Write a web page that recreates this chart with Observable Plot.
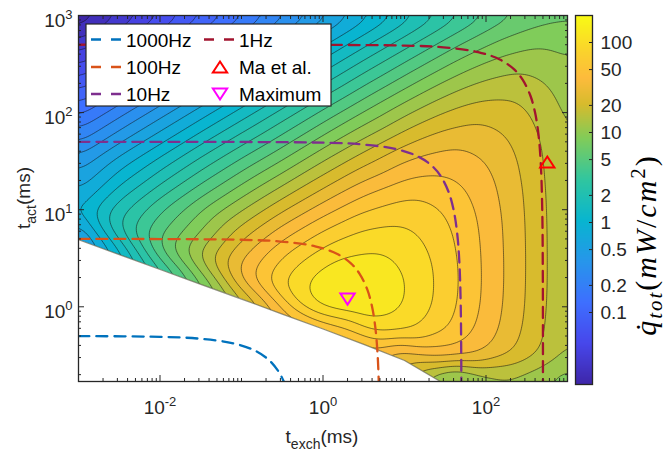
<!DOCTYPE html>
<html><head><meta charset="utf-8">
<script src="https://cdn.jsdelivr.net/npm/d3@7"></script>
<script src="https://cdn.jsdelivr.net/npm/@observablehq/plot@0.6"></script>
<style>
html,body{margin:0;padding:0;background:#fff;}
#wrap{position:relative;width:666px;height:458px;overflow:hidden;}
#wrap svg{position:absolute;top:0;}
</style></head><body><div id="wrap"></div>
<script>
// ---------- data ----------
// field: log10 of q_tot (mW/cm^2); t_exch (columns) x t_act (rows), both in ms
const gridExch = [1e-3, 3.16e-3, 1e-2, 3.16e-2, 0.1, 0.316, 1, 3.16, 10, 31.6, 100, 316, 1000];
const gridAct  = [1000, 316, 100, 31.6, 10, 3.16, 1, 0.316, 0.1];
const gridLogQ = [
  [-1.80,-1.55,-1.30,-1.05,-0.80,-0.55,-0.30,-0.05,0.20,0.44,0.66,0.83,0.90],
  [-1.30,-1.05,-0.80,-0.55,-0.30,-0.05,0.20,0.45,0.69,0.91,1.08,1.15,1.08],
  [-0.80,-0.55,-0.30,-0.05,0.20,0.45,0.70,0.94,1.16,1.33,1.40,1.33,1.16],
  [-0.32,-0.06,0.19,0.45,0.70,0.94,1.19,1.41,1.58,1.65,1.58,1.41,1.19],
  [0.02,0.36,0.65,0.92,1.18,1.43,1.65,1.83,1.90,1.83,1.66,1.44,1.20],
  [-0.33,0.08,0.71,1.24,1.58,1.85,2.05,2.13,2.07,1.90,1.68,1.44,1.20],
  [-0.33,0.08,0.49,0.89,1.28,1.71,2.16,2.21,2.10,1.90,1.68,1.44,1.19],
  [-0.33,0.08,0.49,0.89,1.28,1.62,1.68,1.63,1.45,1.66,1.56,1.38,1.16],
  [-0.33,0.08,0.49,0.89,1.28,1.62,1.68,1.63,1.45,1.20,0.77,1.09,1.02]
];
// finer readings, upper right (1Hz / 10Hz corners)
const patchAExch = [10, 17.8, 31.6, 56.2, 100, 178, 316, 562, 1000];
const patchAAct  = [1000, 562, 316, 178, 100, 56.2, 31.6, 17.8, 10];
const patchALogQ = [
  [0.196,0.317,0.437,0.551,0.659,0.754,0.831,0.881,0.899],
  [0.442,0.562,0.676,0.784,0.879,0.956,1.006,1.024,1.006],
  [0.687,0.801,0.909,1.004,1.081,1.131,1.149,1.131,1.081],
  [0.926,1.034,1.129,1.206,1.256,1.274,1.256,1.206,1.129],
  [1.159,1.254,1.331,1.381,1.399,1.381,1.331,1.254,1.159],
  [1.379,1.456,1.506,1.524,1.506,1.456,1.379,1.284,1.176],
  [1.581,1.631,1.649,1.631,1.581,1.504,1.409,1.301,1.187],
  [1.756,1.774,1.756,1.706,1.629,1.534,1.426,1.311,1.192],
  [1.899,1.881,1.831,1.754,1.659,1.551,1.437,1.317,1.196]
];
// finer readings, lower right
const patchBExch = [31.6, 56.2, 100, 178, 316, 562, 1000];
const patchBAct  = [5.62, 3.16, 1.78, 1, 0.562, 0.316, 0.178, 0.1];
const patchBLogQ = [
  [1.877,1.782,1.675,1.561,1.442,1.320,1.197],
  [1.903,1.797,1.683,1.565,1.444,1.321,1.198],
  [1.913,1.802,1.685,1.565,1.443,1.321,1.197],
  [1.902,1.792,1.677,1.558,1.438,1.316,1.194],
  [1.850,1.754,1.648,1.537,1.422,1.304,1.185],
  [1.663,1.629,1.563,1.476,1.378,1.273,1.161],
  [0.90,0.95,1.10,1.15,1.12,1.06,0.98],
  [0.60,0.75,0.90,0.95,0.95,0.90,0.85]
];
// single readings along the ridge, the cut-off edge and around the maximum
const extraExch = [3.16e-3,1e-2,0.1,0.316,
  1e-3,3.16e-3,1e-2,3.16e-2,0.1,0.316,1,3.16,10,27.5,
  0.1,0.316,1,1.78,3.16,5.62,10,17.8,
  0.562,1.78,5.62,17.8,
  0.1,0.316,0.562,1,1.78,3.16,5.62,10,17.8,
  0.562,1.78,5.62,17.8,
  1.78,3.16,5.62,10,17.8,
  17.8];
const extraAct = [6.44,4.5,2.19,1.53,
  4.9,3.44,2.42,1.70,1.2,0.84,0.59,0.41,0.28,0.17,
  5.62,5.62,5.62,5.62,5.62,5.62,5.62,5.62,
  3.16,3.16,3.16,3.16,
  1.78,1.78,1.78,1.78,1.78,1.78,1.78,1.78,1.78,
  1,1,1,1,
  0.562,0.562,0.562,0.562,0.562,
  0.316];
const extraLogQ = [0.43,0.84,1.63,1.97,
  -0.33,0.08,0.49,0.89,1.28,1.62,1.68,1.63,1.45,1.00,
  1.40,1.66,1.87,1.95,2.00,2.02,2.00,1.95,
  1.96,2.11,2.12,2.00,
  1.59,1.97,2.09,2.18,2.23,2.21,2.17,2.11,2.02,
  2.02,2.21,2.17,2.01,
  1.75,1.98,2.02,2.00,1.93,
  1.62];

// white (undefined) region edge
const edgeExch = [0.001,0.00316,0.01,0.0316,0.1,0.316,1,3.16,10,27.5,40];
const edgeAct  = [4.9,3.44,2.42,1.70,1.2,0.84,0.59,0.41,0.28,0.17,0.13];

// constant-frequency curves
const curveNames = ["1000Hz","100Hz","10Hz","1Hz"];
const curveExch = [
  [0.001,0.01,0.03,0.08,0.15,0.22,0.28,0.31,0.325,0.333],
  [0.001,0.1,0.3,0.8,1.5,2.2,2.8,3.5,4.0,4.4,4.7,4.83],
  [0.001,1,3,8,15,22,28,35,40,44,47,49,49.83],
  [0.001,10,30,80,150,220,280,350,400,440,470,490,498,499.83]
];
const curveAct = [
  [0.499,0.49,0.47,0.42,0.35,0.28,0.22,0.19,0.175,0.167],
  [5,4.9,4.7,4.2,3.5,2.8,2.2,1.5,1.0,0.6,0.3,0.17],
  [50,49,47,42,35,28,22,15,10,6,3,1,0.17],
  [500,490,470,420,350,280,220,150,100,60,30,10,2,0.17]
];
const curveColors = ["#0072BD","#D95319","#7E2F8E","#A2142F"];

// markers
const markerNames = ["Ma et al.","Maximum"];
const markerExch = [565, 2.0];
const markerAct  = [31, 1.2];
const markerColors = ["#FF0000","#FF00FF"];

// axes / colorbar ticks
const xLabelTicks = [1e-2, 1, 1e2];
const yLabelTicks = [1, 10, 100, 1000];
const cbarTicks = [0.1,0.2,0.5,1,2,5,10,20,50,100];
const cbarDomain = [-1.8, 2.3];   // log10 of 0.016 ... 200

// ---------- build ----------
const FONT = '"Liberation Sans", Arimo, Arial, Helvetica, sans-serif';
const INK = "#262626";
const parulaPos = [0,0.111,0.222,0.333,0.444,0.556,0.667,0.76,0.83,0.90,1];
const parulaCol = ["rgb(62,38,168)","rgb(71,71,235)","rgb(62,111,255)","rgb(39,150,235)","rgb(8,181,208)",
  "rgb(49,198,159)","rgb(129,204,89)","rgb(215,187,45)","rgb(253,187,60)","rgb(250,210,45)","rgb(249,251,21)"];
const parula = d3.scaleLinear().domain(parulaPos).range(parulaCol).interpolate(d3.interpolateRgb).clamp(true);
const parulaFn = t => parula(t);

const inA = (te, ta) => te >= 10 && ta >= 10;
const inB = (te, ta) => te >= 31.6 && ta <= 5.62;
const field = [];
gridAct.forEach((ta, i) => gridExch.forEach((te, j) => {
  if (!inA(te, ta) && !inB(te, ta)) field.push({te, ta, L: gridLogQ[i][j]});
}));
patchAAct.forEach((ta, i) => patchAExch.forEach((te, j) => field.push({te, ta, L: patchALogQ[i][j]})));
patchBAct.forEach((ta, i) => patchBExch.forEach((te, j) => field.push({te, ta, L: patchBLogQ[i][j]})));
extraExch.forEach((te, k) => field.push({te, ta: extraAct[k], L: extraLogQ[k]}));

const edge = edgeExch.map((te, i) => ({te, ta: edgeAct[i]}));
const curves = curveNames.map((name, i) => ({name, color: curveColors[i],
  pts: curveExch[i].map((te, k) => ({te, ta: curveAct[i][k]}))}));
const markers = markerNames.map((name, i) => ({name, te: markerExch[i], ta: markerAct[i], color: markerColors[i]}));

const levels = [-3, ...d3.range(-1.67, 2.15, 0.13)];

const xMinor = [], yMinor = [];
for (let d = -3; d <= 2; d++) for (let k = 1; k <= 9; k++) { const v = +(k * 10 ** d).toPrecision(3); if (v > 1e-3 && v < 1e3 && !xLabelTicks.includes(v)) xMinor.push(v); }
for (let d = -1; d <= 2; d++) for (let k = 2; k <= 9; k++) { const v = +(k * 10 ** d).toPrecision(3); if (v > 0.17 && v < 1000) yMinor.push(v); }

function triShape(down) {
  return {draw(ctx, size) {
    const k = 2 * Math.sqrt(size / Math.PI), w = 1.3 * k, h = 1.0 * k;
    if (down) { ctx.moveTo(0, h/2); ctx.lineTo(w/2, -h/2); ctx.lineTo(-w/2, -h/2); }
    else { ctx.moveTo(0, -h/2); ctx.lineTo(w/2, h/2); ctx.lineTo(-w/2, h/2); }
    ctx.closePath();
  }};
}
const triUp = triShape(false), triDown = triShape(true);

const tickOpts = {stroke: INK, strokeWidth: 1, fill: "none", label: null};
const main = Plot.plot({
  width: 666, height: 458,
  marginLeft: 78, marginRight: 99, marginTop: 15, marginBottom: 77,
  style: {fontFamily: FONT, fontSize: "19px", background: "transparent", color: INK, overflow: "visible"},
  x: {type: "log", domain: [1e-3, 1e3], axis: null, label: null},
  y: {type: "log", domain: [0.17, 1000], axis: null, label: null},
  color: {type: "linear", domain: cbarDomain, interpolate: parulaFn},
  marks: [
    Plot.contour(field, {x: "te", y: "ta", fill: "L", thresholds: levels, interpolate: "barycentric",
      blur: 4, stroke: "#111", strokeWidth: 0.6, strokeOpacity: 0.9}),
    Plot.areaY(edge, {x: "te", y1: 0.05, y2: "ta", fill: "white", clip: true}),
    Plot.line(edge, {x: "te", y: "ta", stroke: "#3a3a20", strokeWidth: 1.2, strokeOpacity: 0.55, clip: true}),
    ...curves.map(c => Plot.line(c.pts, {x: "te", y: "ta", stroke: c.color, strokeWidth: 2.3,
      strokeDasharray: "11,7", curve: "catmull-rom", clip: true})),
    Plot.dot(markers.slice(0,1), {x: "te", y: "ta", symbol: triUp, r: 5.5, stroke: "color", strokeWidth: 2, fill: "none"}),
    Plot.dot(markers.slice(1,2), {x: "te", y: "ta", symbol: triDown, r: 5.5, stroke: "color", strokeWidth: 2, fill: "none"}),
    Plot.frame({stroke: INK, strokeWidth: 1.3}),
    Plot.axisX({ticks: xLabelTicks, anchor: "bottom", tickSize: -6, ...tickOpts}),
    Plot.axisX({ticks: xMinor, anchor: "bottom", tickSize: -3, ...tickOpts}),
    Plot.axisX({ticks: xLabelTicks, anchor: "top", tickSize: -6, ...tickOpts}),
    Plot.axisX({ticks: xMinor, anchor: "top", tickSize: -3, ...tickOpts}),
    Plot.axisY({ticks: yLabelTicks, anchor: "left", tickSize: -6, ...tickOpts}),
    Plot.axisY({ticks: yMinor, anchor: "left", tickSize: -3, ...tickOpts}),
    Plot.axisY({ticks: yLabelTicks, anchor: "right", tickSize: -6, ...tickOpts}),
    Plot.axisY({ticks: yMinor, anchor: "right", tickSize: -3, ...tickOpts}),
    Plot.axisX({ticks: xLabelTicks, anchor: "bottom", tickSize: 0, tickPadding: 19, fill: INK, label: null,
      tickFormat: d => "10^" + Math.round(Math.log10(d))}),
    Plot.axisY({ticks: yLabelTicks, anchor: "left", tickSize: 0, tickPadding: 6, dy: 5, fill: INK, label: null,
      tickFormat: d => "10^" + Math.round(Math.log10(d))})
  ]
});

const cbar = Plot.plot({
  width: 106, height: 458,
  marginLeft: 15, marginRight: 74, marginTop: 15, marginBottom: 74,
  style: {fontFamily: FONT, fontSize: "19px", background: "transparent", color: INK, overflow: "visible"},
  x: {domain: [0, 1], axis: null},
  y: {domain: cbarDomain, axis: null},
  color: {type: "linear", domain: cbarDomain, interpolate: parulaFn},
  marks: [
    Plot.raster({fill: (x, y) => y, x1: 0, x2: 1, y1: cbarDomain[0], y2: cbarDomain[1]}),
    Plot.frame({stroke: INK, strokeWidth: 1.3}),
    Plot.axisY({ticks: cbarTicks.map(Math.log10), anchor: "right", tickSize: -4, ...tickOpts}),
    Plot.axisY({ticks: cbarTicks.map(Math.log10), anchor: "right", tickSize: 0, tickPadding: 8, fill: INK, label: null,
      tickFormat: d => d3.format("~g")(+(10 ** d).toPrecision(2))})
  ]
});

const wrap = document.getElementById("wrap");
main.style.left = "0px";
cbar.style.left = "560px";
wrap.appendChild(main);
wrap.appendChild(cbar);

// superscripts in tick labels
d3.select(main).selectAll("text").each(function () {
  const s = this.textContent;
  if (s.includes("^")) {
    const [b, e] = s.split("^");
    const t = d3.select(this); t.text(null);
    t.append("tspan").text(b);
    t.append("tspan").attr("dy", -8).attr("font-size", "13px").text(e);
  }
});

const svg = d3.select(main);
// axis titles
const yl = svg.append("text").attr("transform", "translate(30,198) rotate(-90)").attr("text-anchor", "middle")
  .attr("font-family", FONT).attr("font-size", 19).attr("fill", INK);
yl.append("tspan").text("t");
yl.append("tspan").attr("dy", 6).attr("font-size", 14).text("act");
yl.append("tspan").attr("dy", -6).text("(ms)");
const xl = svg.append("text").attr("x", 322).attr("y", 443).attr("text-anchor", "middle")
  .attr("font-family", FONT).attr("font-size", 19).attr("fill", INK);
xl.append("tspan").text("t");
xl.append("tspan").attr("dy", 6).attr("font-size", 14).text("exch");
xl.append("tspan").attr("dy", -6).text("(ms)");

// legend
const lg = svg.append("g").attr("font-family", FONT).attr("font-size", 19).attr("fill", "#000")
  .attr("text-anchor", "start");
lg.append("rect").attr("x", 86).attr("y", 24).attr("width", 245).attr("height", 82)
  .attr("fill", "white").attr("stroke", INK).attr("stroke-width", 1.2);
const rowY = [39.5, 67, 94];
curves.forEach((c, i) => {
  const col = i < 3 ? 0 : 1, row = i < 3 ? i : 0;
  const x0 = col ? 204 : 91, y = rowY[row];
  lg.append("line").attr("x1", x0).attr("x2", x0 + 30).attr("y1", y).attr("y2", y)
    .attr("stroke", c.color).attr("stroke-width", 2.3).attr("stroke-dasharray", "10,10");
  lg.append("text").attr("text-anchor", "start").attr("x", x0 + 35).attr("y", y + 7).text(c.name);
});
markers.forEach((m, i) => {
  const y = rowY[i + 1];
  const p = d3.path(); (i ? triDown : triUp).draw(p, Math.PI * 5.5 * 5.5);
  lg.append("path").attr("d", p.toString()).attr("transform", `translate(220,${y})`)
    .attr("fill", "none").attr("stroke", m.color).attr("stroke-width", 2);
  lg.append("text").attr("text-anchor", "start").attr("x", 239).attr("y", y + 7).text(m.name);
});

// colorbar label
const SERIF = '"Liberation Serif", "DejaVu Serif", serif';
const cl = d3.select(cbar).append("text").attr("transform", "translate(96,245) rotate(-90)")
  .attr("text-anchor", "middle").attr("font-family", SERIF).attr("font-size", 30).attr("fill", "#000")
  .attr("letter-spacing", 2);
cl.append("tspan").attr("font-style", "italic").text("q\u0307");
cl.append("tspan").attr("font-style", "italic").attr("font-size", 21).attr("dy", 6).text("tot");
cl.append("tspan").attr("dy", -6).text("(");
cl.append("tspan").attr("font-style", "italic").text("mW");
cl.append("tspan").text("/");
cl.append("tspan").attr("font-style", "italic").text("cm");
cl.append("tspan").attr("font-size", 21).attr("dy", -11).text("2");
cl.append("tspan").attr("dy", 11).text(")");
</script></body></html>
